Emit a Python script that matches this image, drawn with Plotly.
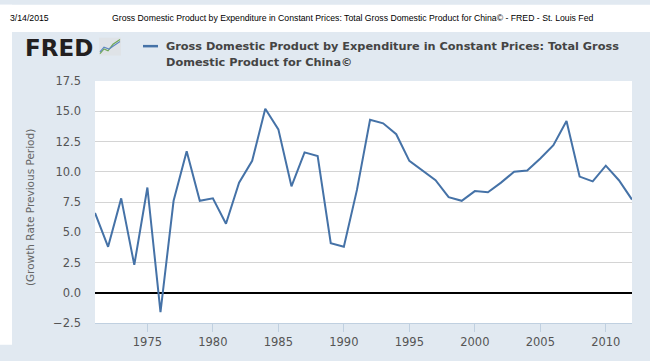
import plotly.graph_objects as go

years = list(range(1971, 2013))
growth = [6.6, 3.8, 7.8, 2.3, 8.7, -1.6, 7.6, 11.7, 7.6, 7.8,
          5.7, 9.1, 10.9, 15.2, 13.5, 8.8, 11.6, 11.3, 4.1, 3.8,
          8.5, 14.3, 14.0, 13.1, 10.9, 10.1, 9.3, 7.9, 7.6, 8.4,
          8.3, 9.1, 10.0, 10.1, 11.1, 12.2, 14.2, 9.6, 9.2, 10.5,
          9.3, 7.7]
x_ticks = [1975, 1980, 1985, 1990, 1995, 2000, 2005, 2010]
y_ticks = [-2.5, 0.0, 2.5, 5.0, 7.5, 10.0, 12.5, 15.0, 17.5]

series_name = "Gross Domestic Product by Expenditure in Constant Prices: Total Gross Domestic Product for China©"
legend_line1 = "Gross Domestic Product by Expenditure in Constant Prices: Total Gross"
legend_line2 = "Domestic Product for China©"
header_date = "3/14/2015"
header_title = "Gross Domestic Product by Expenditure in Constant Prices: Total Gross Domestic Product for China© - FRED - St. Louis Fed"
y_title = "(Growth Rate Previous Period)"

W, H = 650, 361
L, R, T, B = 95, 18, 81, 23
PW, PH = W - L - R, H - T - B
PANEL = "#e1e9f1"
LINE = "#4572a7"


def px(x):
    return (x - L) / PW


def py(y):
    return (H - B - y) / PH


fig = go.Figure()
fig.add_trace(go.Scatter(x=years, y=growth, mode="lines", name=series_name,
                         line=dict(color=LINE, width=2), showlegend=False,
                         hoverinfo="skip"))

shapes = [
    dict(type="rect", xref="paper", yref="paper", x0=px(0), x1=px(W), y0=py(0), y1=py(29),
         fillcolor="white", line=dict(width=0), layer="below"),
    dict(type="rect", xref="paper", yref="paper", x0=px(0), x1=px(12), y0=py(0), y1=py(H),
         fillcolor="white", line=dict(width=0), layer="below"),
    # legend dash
    dict(type="line", xref="paper", yref="paper", x0=px(143), x1=px(158), y0=py(44), y1=py(44),
         line=dict(color=LINE, width=2.5)),
    # logo icon
    dict(type="rect", xref="paper", yref="paper", x0=px(99), x1=px(121), y0=py(35), y1=py(54),
         fillcolor="#dfe3e7", line=dict(width=0)),
]
icon_green = [(100, 52), (104, 47), (108, 49), (113, 42), (120, 37)]
icon_blue = [(100, 50), (104, 45), (109, 47), (113, 44), (120, 39)]
for pts, col in ((icon_green, "#6fa855"), (icon_blue, "#5f88c0")):
    path = "M " + " L ".join(f"{px(a)},{py(b)}" for a, b in pts)
    shapes.append(dict(type="path", xref="paper", yref="paper", path=path,
                       line=dict(color=col, width=1.2)))

annotations = [
    dict(text=header_date, x=px(8), y=py(14), xanchor="left", yanchor="middle",
         font=dict(family="Liberation Sans", size=8.7, color="#000")),
    dict(text=header_title, x=px(110), y=py(14), xanchor="left", yanchor="middle",
         font=dict(family="Liberation Sans", size=8.7, color="#000")),
    dict(text=legend_line1, x=px(164), y=py(44), xanchor="left", yanchor="middle",
         font=dict(family="DejaVu Sans", size=11.3, color="#444", weight="bold")),
    dict(text=legend_line2, x=px(164), y=py(61), xanchor="left", yanchor="middle",
         font=dict(family="DejaVu Sans", size=11.3, color="#444", weight="bold")),
    dict(text=y_title, x=px(30), y=py(216), xanchor="center", yanchor="middle", textangle=-90,
         font=dict(family="DejaVu Sans", size=10.5, color="#666")),
    dict(text="FRED", x=px(59), y=py(45.5), xanchor="center", yanchor="middle",
         font=dict(family="DejaVu Sans", size=23, color="#231f20", weight="bold")),
]
for a in annotations:
    a.update(xref="paper", yref="paper", showarrow=False)

fig.update_layout(
    width=W, height=H,
    margin=dict(l=L, r=R, t=T, b=B, pad=0),
    paper_bgcolor=PANEL, plot_bgcolor="white",
    shapes=shapes, annotations=annotations, showlegend=False,
    xaxis=dict(range=[1971, 2012], tickvals=x_ticks, showgrid=False, zeroline=False,
               showline=True, linecolor="#c0d0e0", linewidth=1,
               ticks="outside", ticklen=8, tickcolor="#c0d0e0", tickwidth=1,
               tickfont=dict(family="DejaVu Sans", size=11.5, color="#555")),
    yaxis=dict(range=[-2.5, 17.5], tickvals=y_ticks, tickformat=".1f",
               showgrid=True, gridcolor="#d4d4d4", gridwidth=1,
               zeroline=True, zerolinecolor="#000", zerolinewidth=2,
               showline=False, ticks="", ticklabelstandoff=13,
               tickfont=dict(family="DejaVu Sans", size=11.5, color="#555")),
)
fig.write_html("out.html", config={"displayModeBar": False},
               post_script="document.body.style.margin='0';document.body.style.overflow='hidden';")
